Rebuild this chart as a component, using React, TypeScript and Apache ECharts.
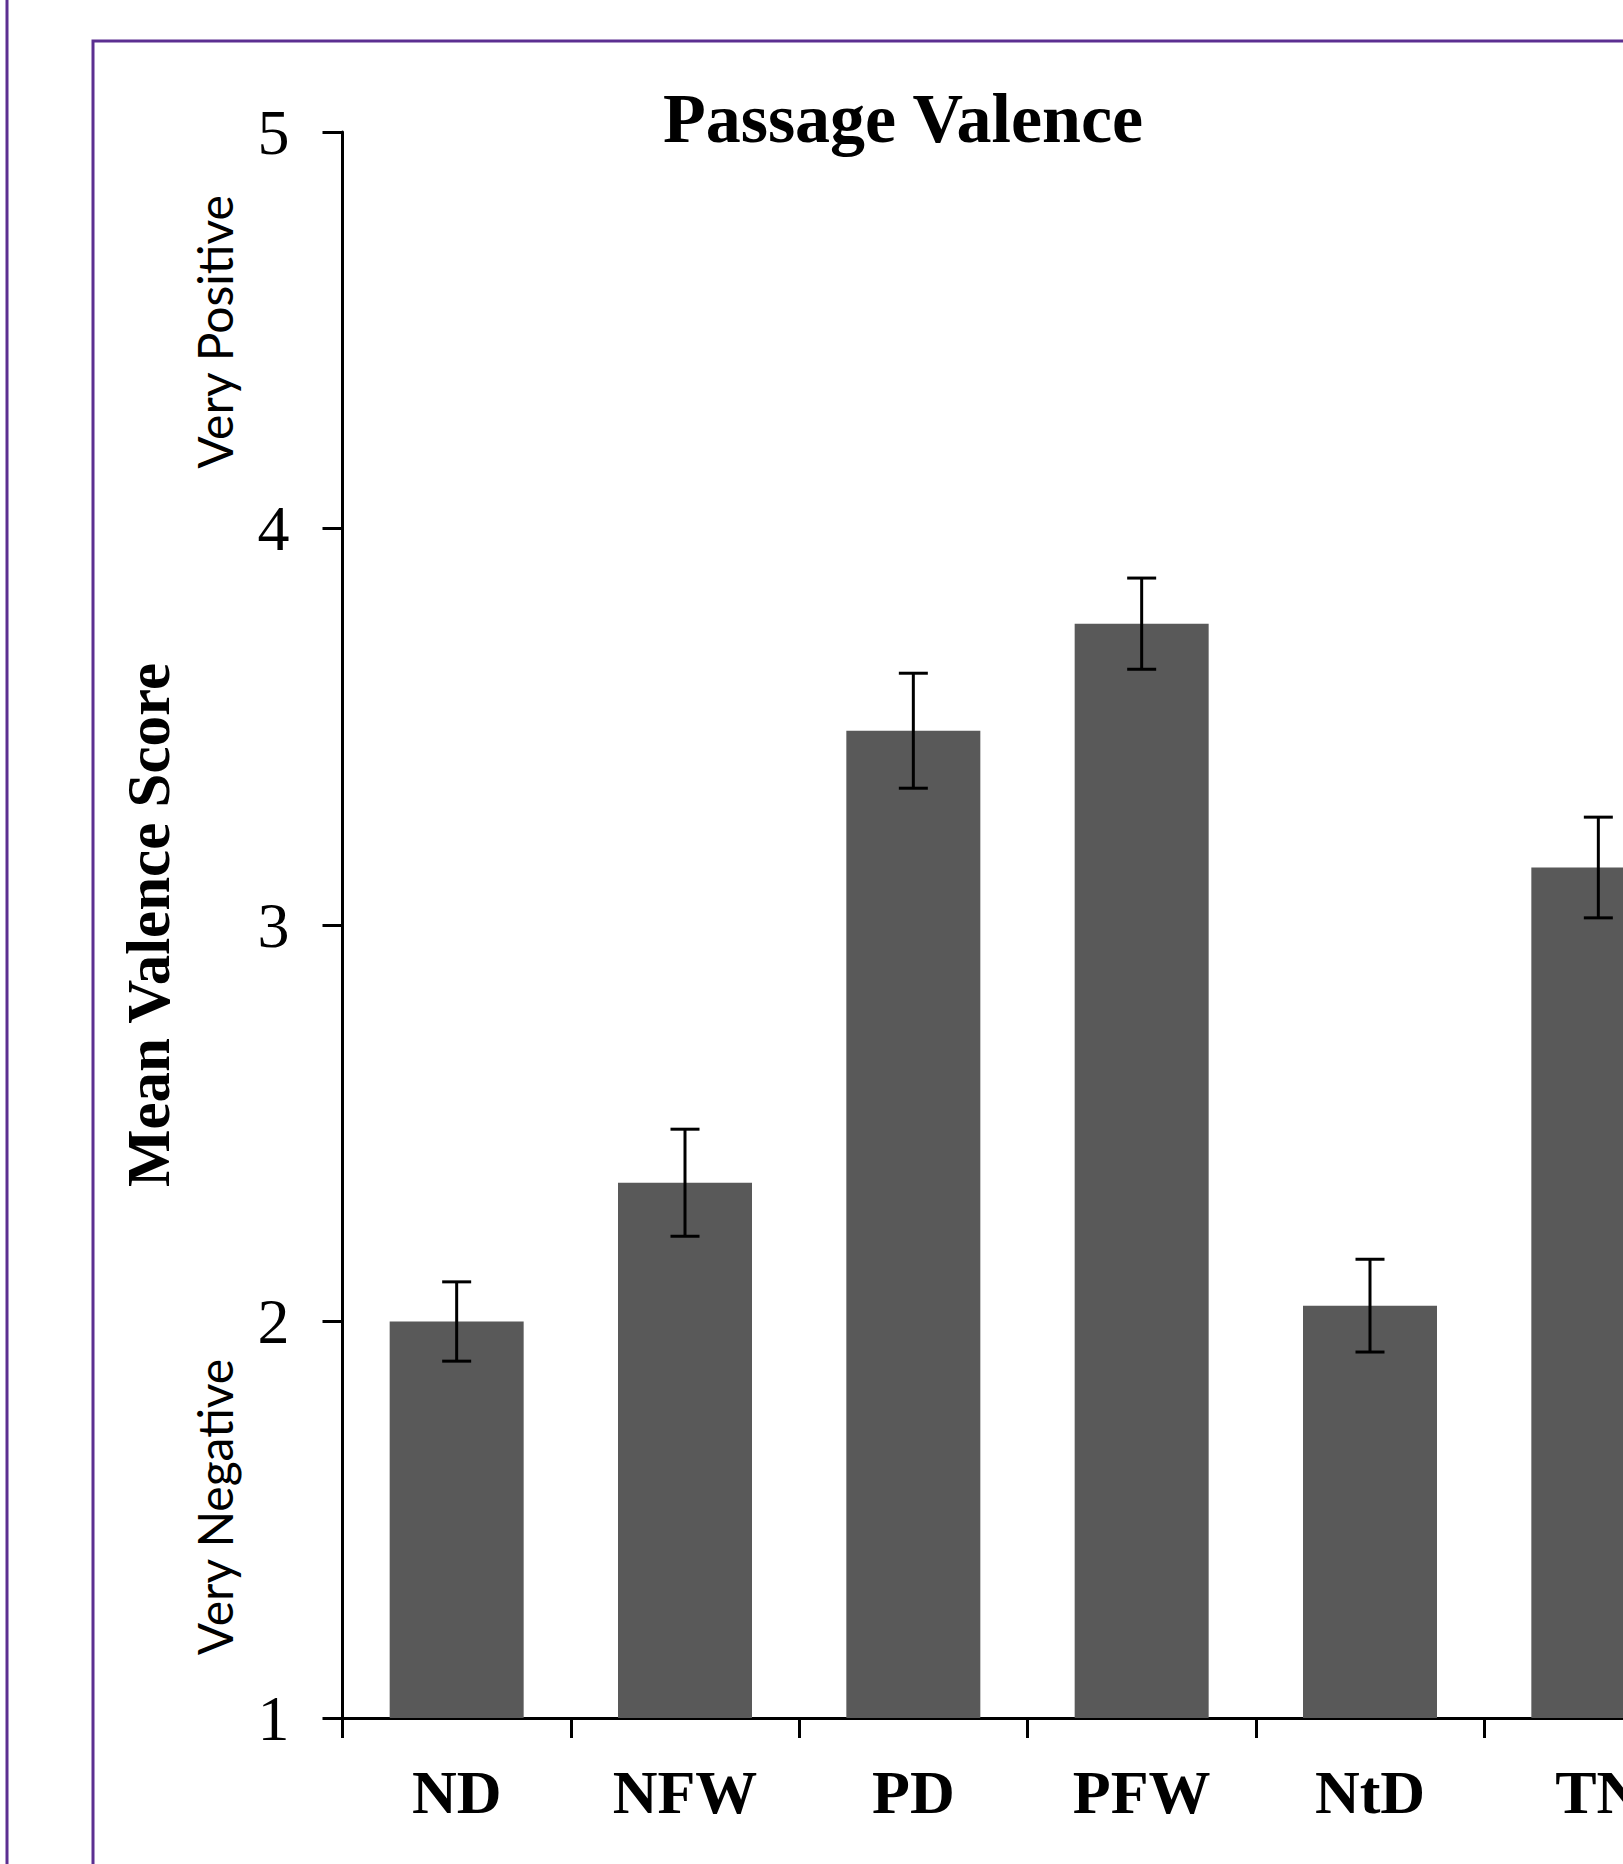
import React, { useEffect, useRef } from "react";
import * as echarts from "echarts";

const categories = ["ND", "NFW", "PD", "PFW", "NtD", "TN"];
const means = [2.0, 2.35, 3.49, 3.76, 2.04, 3.145];
const errors = [0.1, 0.135, 0.145, 0.115, 0.117, 0.127];
const yTicks = [1, 2, 3, 4, 5];
const titleText = "Passage Valence";
const yName = "Mean Valence Score";
const anchorTop = "Very Positive";
const anchorBottom = "Very Negative";

const PURPLE = "#5c2f91";

export default function App() {
  const ref = useRef<HTMLDivElement>(null);
  useEffect(() => {
    if (!ref.current) return;
    const chart = echarts.init(ref.current, null, { renderer: "svg" });
    const errData = categories.map((c, i) => [i, means[i] + errors[i], means[i] - errors[i]]);
    chart.setOption({
      animation: false,
      backgroundColor: "#ffffff",
      title: {
        text: titleText,
        left: 898,
        top: 78,
        textAlign: "center",
        textStyle: { fontFamily: "Liberation Serif", fontWeight: "bold", fontSize: 70, color: "#000" },
      },
      grid: { left: 342.5, top: 132, width: 1370, bottom: 146, containLabel: false },
      xAxis: {
        type: "category",
        data: categories,
        boundaryGap: true,
        axisLine: { lineStyle: { color: "#000", width: 3 } },
        axisTick: { show: true, length: 20, alignWithLabel: false, lineStyle: { color: "#000", width: 3 } },
        axisLabel: {
          margin: 43,
          fontFamily: "Liberation Serif",
          fontWeight: "bold",
          fontSize: 62,
          color: "#000",
          interval: 0,
        },
        splitLine: { show: false },
      },
      yAxis: {
        type: "value",
        min: yTicks[0],
        max: yTicks[yTicks.length - 1],
        interval: 1,
        name: yName,
        nameLocation: "middle",
        nameRotate: 90,
        nameGap: 164,
        nameTextStyle: { fontFamily: "Liberation Serif", fontWeight: "bold", fontSize: 61, color: "#000" },
        axisLine: { show: true, lineStyle: { color: "#000", width: 3 } },
        axisTick: { show: true, length: 20, lineStyle: { color: "#000", width: 3 } },
        axisLabel: { margin: 53, fontFamily: "Liberation Serif", fontSize: 64, color: "#000" },
        splitLine: { show: false },
      },
      graphic: [
        {
          type: "rect",
          silent: true,
          shape: { x: 7, y: -20, width: 4000, height: 4000 },
          style: { fill: "none", stroke: PURPLE, lineWidth: 3 },
        },
        {
          type: "rect",
          silent: true,
          shape: { x: 93, y: 41, width: 4000, height: 4000 },
          style: { fill: "none", stroke: PURPLE, lineWidth: 3 },
        },
        {
          type: "text",
          x: 214,
          y: 332,
          rotation: Math.PI / 2,
          style: { text: anchorTop, fontFamily: "Lato", fontSize: 48, fill: "#000", align: "center", verticalAlign: "middle" },
        },
        {
          type: "text",
          x: 214,
          y: 1507,
          rotation: Math.PI / 2,
          style: { text: anchorBottom, fontFamily: "Lato", fontSize: 48, fill: "#000", align: "center", verticalAlign: "middle" },
        },
      ],
      series: [
        {
          type: "bar",
          data: means,
          barWidth: 134,
          itemStyle: { color: "#595959" },
          z: 2,
        },
        {
          type: "custom",
          data: errData,
          encode: { x: 0, y: [1, 2] },
          z: 5,
          renderItem: (params: any, api: any) => {
            const idx = api.value(0);
            const hi = api.coord([idx, api.value(1)]);
            const lo = api.coord([idx, api.value(2)]);
            const half = 14.5;
            const st = { stroke: "#000", lineWidth: 3 };
            return {
              type: "group",
              children: [
                { type: "line", shape: { x1: hi[0], y1: hi[1], x2: lo[0], y2: lo[1] }, style: st },
                { type: "line", shape: { x1: hi[0] - half, y1: hi[1], x2: hi[0] + half, y2: hi[1] }, style: st },
                { type: "line", shape: { x1: lo[0] - half, y1: lo[1], x2: lo[0] + half, y2: lo[1] }, style: st },
              ],
            };
          },
        },
      ],
    });
    return () => chart.dispose();
  }, []);
  return (
    <div style={{ position: "fixed", left: 0, top: 0, width: 1623, height: 1864, overflow: "hidden", background: "#fff" }}>
      <div ref={ref} style={{ width: 1900, height: 1864 }} />
    </div>
  );
}
